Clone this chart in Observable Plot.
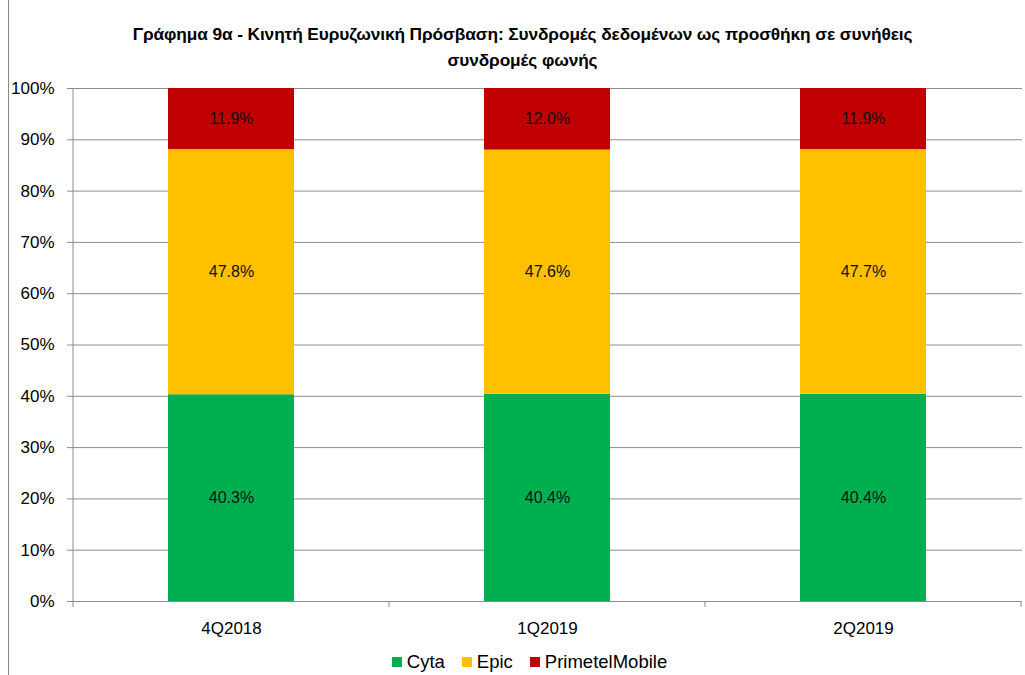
<!DOCTYPE html>
<html>
<head>
<meta charset="utf-8">
<script src="https://cdn.jsdelivr.net/npm/d3@7"></script>
<script src="https://cdn.jsdelivr.net/npm/@observablehq/plot@0.6"></script>
<style>
  body { margin: 0; background: #fff; font-family: "Liberation Sans", Arial, sans-serif; }
  #wrap { position: relative; width: 1025px; height: 675px; overflow: hidden; }
  #frame { position: absolute; left: 8px; top: -2px; width: 1030px; height: 690px; border: 1px solid #888; pointer-events: none; }
  #title { height: 80px; box-sizing: border-box; padding-top: 21px; text-align: center; font-weight: bold; font-size: 17.3px; line-height: 26px; color: #000; padding-left: 20px; letter-spacing: -0.1px; }
  #legend { display: flex; justify-content: center; gap: 17px; font-size: 18.5px; color: #000; margin-top: 5px; padding-left: 34px; }
  #legend span.item { display: flex; align-items: center; gap: 5px; }
  #legend span.sw { width: 10px; height: 10px; display: inline-block; }
</style>
</head>
<body>
<div id="wrap">
  <div id="frame"></div>
  <div id="title">Γράφημα 9α - Κινητή Ευρυζωνική Πρόσβαση: Συνδρομές δεδομένων ως προσθήκη σε συνήθεις<br>συνδρομές φωνής</div>
  <div id="chart"></div>
  <div id="legend"></div>
</div>
<script>
const quarters = ["4Q2018", "1Q2019", "2Q2019"];
const seriesNames = ["Cyta", "Epic", "PrimetelMobile"];
const cyta = [40.3, 40.4, 40.4];
const epic = [47.8, 47.6, 47.7];
const primetel = [11.9, 12.0, 11.9];
const colors = ["#00B050", "#FFC000", "#C00000"];
const yTicks = [0, 10, 20, 30, 40, 50, 60, 70, 80, 90, 100];

const valuesBySeries = [cyta, epic, primetel];
const data = [];
seriesNames.forEach((s, si) => {
  quarters.forEach((q, qi) => data.push({quarter: q, series: s, value: valuesBySeries[si][qi]}));
});

// left axis line and boundary ticks between categories on the x axis
function axisLines(index, scales, values, dims) {
  const x = scales.x, y = scales.y;
  const step = x.step();
  const y0 = y(0), y100 = y(100);
  const g = d3.create("svg:g").attr("stroke", "#8c8c8c").attr("stroke-width", 1);
  const edges = quarters.map(q => x(q) - (step - x.bandwidth()) / 2);
  edges.push(edges[edges.length - 1] + step);
  g.append("line").attr("x1", edges[0]).attr("x2", edges[0]).attr("y1", y100).attr("y2", y0);
  for (const e of edges) {
    g.append("line").attr("x1", e).attr("x2", e).attr("y1", y0).attr("y2", y0 + 6);
  }
  return g.node();
}

const chart = Plot.plot({
  width: 1025,
  height: 566,
  marginTop: 8,
  marginBottom: 45,
  marginLeft: 73,
  marginRight: 3,
  style: {fontFamily: "Liberation Sans, Arial, sans-serif", fontSize: "15px", color: "#000", background: "#fff"},
  x: {domain: quarters, paddingInner: 0.6, paddingOuter: 0.3, label: null},
  y: {domain: [0, 100], label: null},
  color: {domain: seriesNames, range: colors},
  marks: [
    Plot.ruleY(yTicks, {stroke: "#8c8c8c", strokeWidth: 1}),
    Plot.barY(data, {x: "quarter", y: "value", fill: "series", order: seriesNames}),
    Plot.text(data, Plot.stackY({x: "quarter", y: "value", z: "series", order: seriesNames, text: d => d.value.toFixed(1) + "%", fill: "#111", fontSize: 16})),
    Plot.axisY({ticks: yTicks, tickFormat: d => d + "%", tickSize: 6, tickPadding: 13, stroke: "#8c8c8c", fontSize: 17, color: "#000"}),
    Plot.axisX({tickSize: 0, tickPadding: 20, fontSize: 17}),
    axisLines
  ]
});
document.getElementById("chart").appendChild(chart);

const legend = document.getElementById("legend");
seriesNames.forEach((s, i) => {
  const item = document.createElement("span");
  item.className = "item";
  item.innerHTML = `<span class="sw" style="background:${colors[i]}"></span><span>${s}</span>`;
  legend.appendChild(item);
});
</script>
</body>
</html>
